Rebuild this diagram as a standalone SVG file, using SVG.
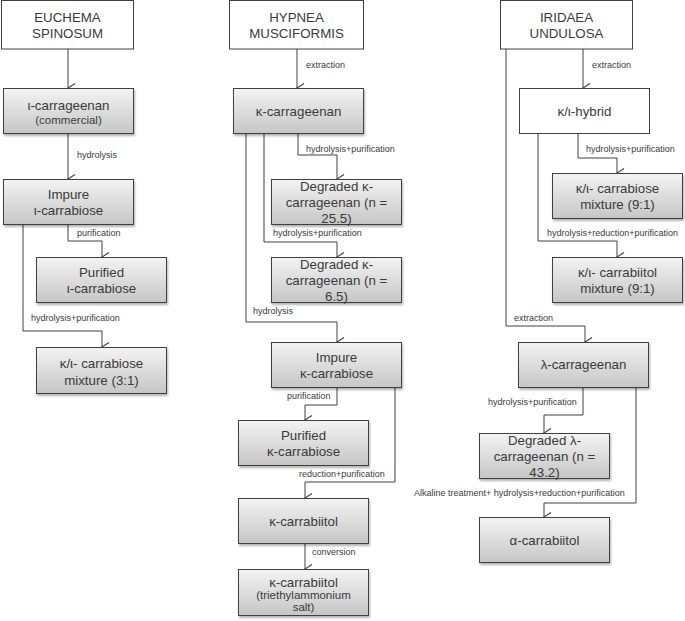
<svg xmlns="http://www.w3.org/2000/svg" width="685" height="621" viewBox="0 0 685 621">
<defs>
<linearGradient id="g" x1="0" y1="0" x2="0" y2="1">
<stop offset="0" stop-color="#f3f3f3"/>
<stop offset="1" stop-color="#c6c6c6"/>
</linearGradient>
<filter id="sh" x="-10%" y="-10%" width="125%" height="135%">
<feDropShadow dx="1" dy="2" stdDeviation="1" flood-color="#000" flood-opacity="0.3"/>
</filter>
<marker id="arr" markerUnits="userSpaceOnUse" markerWidth="12" markerHeight="10" refX="5" refY="8" orient="auto-start-reverse" viewBox="0 0 10 10">
<path d="M0.5,1 L5,8 L9.5,1" fill="none" stroke="#404040" stroke-width="1.1"/>
</marker>
</defs>
<style>
.box{fill:url(#g);stroke:#404040;stroke-width:1;filter:url(#sh)}
.wbox{fill:#fff;stroke:#404040;stroke-width:1}
.t{font-family:"Liberation Sans",Arial,sans-serif;font-size:13.3px;fill:#3a3a3a;text-anchor:middle}
.ts{font-family:"Liberation Sans",Arial,sans-serif;font-size:11.5px;fill:#3a3a3a;text-anchor:middle}
.lb{font-family:"Liberation Sans",Arial,sans-serif;font-size:9px;fill:#3a3a3a}
.c{fill:none;stroke:#404040;stroke-width:1}
.a{marker-end:url(#arr)}
</style>
<rect width="685" height="621" fill="#fff"/>

<g id="connectors">
<path class="c a" d="M68,49 V88"/>
<path class="c a" d="M68,134 V179"/>
<path class="c a" d="M68,224 V241 H102 V257"/>
<path class="c a" d="M23,224 V331 H102 V347"/>
<path class="c a" d="M297,49 V88"/>
<path class="c a" d="M298,133 V155 H337 V179"/>
<path class="c a" d="M264,133 V242 H337 V257"/>
<path class="c a" d="M246,133 V322 H337 V342"/>
<path class="c a" d="M337,387 V405 H305 V420"/>
<path class="c a" d="M395,387 V482 H305 V498"/>
<path class="c a" d="M305,543 V569"/>
<path class="c a" d="M583,49 V88"/>
<path class="c a" d="M506,49 V326 H585 V342"/>
<path class="c a" d="M578,133 V158 H617 V173"/>
<path class="c a" d="M538,133 V241 H617 V257"/>
<path class="c a" d="M583,387 V415 H544 V433"/>
<path class="c a" d="M636,387 V503 H544 V517"/>
<text class="lb" x="77" y="158">hydrolysis</text>
<text class="lb" x="77" y="236">purification</text>
<text class="lb" x="31" y="321">hydrolysis+purification</text>
<text class="lb" x="306" y="68">extraction</text>
<text class="lb" x="306" y="152">hydrolysis+purification</text>
<text class="lb" x="273" y="236">hydrolysis+purification</text>
<text class="lb" x="253" y="314">hydrolysis</text>
<text class="lb" x="287" y="399">purification</text>
<text class="lb" x="299" y="477">reduction+purification</text>
<text class="lb" x="312" y="555">conversion</text>
<text class="lb" x="592" y="68">extraction</text>
<text class="lb" x="586" y="152">hydrolysis+purification</text>
<text class="lb" x="547" y="236">hydrolysis+reduction+purification</text>
<text class="lb" x="514" y="321">extraction</text>
<text class="lb" x="488" y="405">hydrolysis+purification</text>
<text class="lb" x="414" y="496">Alkaline treatment+ hydrolysis+reduction+purification</text>
</g>

<g id="euchema">
<rect class="wbox" x="1.5" y="0.5" width="132" height="48.5"/>
<text class="t" x="67.5" y="22">EUCHEMA</text>
<text class="t" x="67.5" y="38">SPINOSUM</text>
</g>
<g id="iota-carrageenan">
<rect class="box" x="3.5" y="88.5" width="130" height="45"/>
<text class="t" x="68.5" y="110">ι-carrageenan</text>
<text class="ts" x="68.5" y="124">(commercial)</text>
</g>
<g id="impure-iota">
<rect class="box" x="3.5" y="179.5" width="130" height="45"/>
<text class="t" x="68.5" y="199">Impure</text>
<text class="t" x="68.5" y="215">ι-carrabiose</text>
</g>
<g id="purified-iota">
<rect class="box" x="36.5" y="257.5" width="130" height="45"/>
<text class="t" x="101.5" y="277">Purified</text>
<text class="t" x="101.5" y="293">ι-carrabiose</text>
</g>
<g id="mix31">
<rect class="box" x="36.5" y="347.5" width="130" height="46"/>
<text class="t" x="101.5" y="368">κ/ι- carrabiose</text>
<text class="t" x="101.5" y="385">mixture (3:1)</text>
</g>

<g id="hypnea">
<rect class="wbox" x="229.5" y="0.5" width="134" height="48.5"/>
<text class="t" x="296.5" y="22">HYPNEA</text>
<text class="t" x="296.5" y="38">MUSCIFORMIS</text>
</g>
<g id="kappa-carrageenan">
<rect class="box" x="233.5" y="88.5" width="130" height="45"/>
<text class="t" x="298.5" y="116">κ-carrageenan</text>
</g>
<g id="degraded-25">
<rect class="box" x="271.5" y="179.5" width="130" height="45"/>
<text class="t" x="336.5" y="191">Degraded κ-</text>
<text class="t" x="336.5" y="207">carrageenan (n =</text>
<text class="t" x="336.5" y="223">25.5)</text>
</g>
<g id="degraded-6">
<rect class="box" x="271.5" y="257.5" width="130" height="45"/>
<text class="t" x="336.5" y="269">Degraded κ-</text>
<text class="t" x="336.5" y="285">carrageenan (n =</text>
<text class="t" x="336.5" y="301">6.5)</text>
</g>
<g id="impure-kappa">
<rect class="box" x="271.5" y="342.5" width="130" height="45"/>
<text class="t" x="336.5" y="362">Impure</text>
<text class="t" x="336.5" y="378">κ-carrabiose</text>
</g>
<g id="purified-kappa">
<rect class="box" x="238.5" y="420.5" width="130" height="45"/>
<text class="t" x="303.5" y="440">Purified</text>
<text class="t" x="303.5" y="456">κ-carrabiose</text>
</g>
<g id="kappa-carrabiitol">
<rect class="box" x="238.5" y="498.5" width="130" height="45"/>
<text class="t" x="303.5" y="526">κ-carrabiitol</text>
</g>
<g id="kappa-carrabiitol-salt">
<rect class="box" x="238.5" y="569.5" width="130" height="46"/>
<text class="t" x="303.5" y="587">κ-carrabiitol</text>
<text class="ts" x="303.5" y="599">(triethylammonium</text>
<text class="ts" x="303.5" y="611">salt)</text>
</g>

<g id="iridaea">
<rect class="wbox" x="500.5" y="0.5" width="132" height="48.5"/>
<text class="t" x="566.5" y="22">IRIDAEA</text>
<text class="t" x="566.5" y="38">UNDULOSA</text>
</g>
<g id="hybrid">
<rect class="wbox" x="519.5" y="88.5" width="130" height="45"/>
<text class="t" x="584.5" y="116">κ/ι-hybrid</text>
</g>
<g id="mix91">
<rect class="box" x="552.5" y="173.5" width="130" height="45"/>
<text class="t" x="617.5" y="193">κ/ι- carrabiose</text>
<text class="t" x="617.5" y="209">mixture (9:1)</text>
</g>
<g id="carrabiitol91">
<rect class="box" x="552.5" y="257.5" width="130" height="45"/>
<text class="t" x="617.5" y="277">κ/ι- carrabiitol</text>
<text class="t" x="617.5" y="293">mixture (9:1)</text>
</g>
<g id="lambda-carrageenan">
<rect class="box" x="518.5" y="342.5" width="130" height="45"/>
<text class="t" x="583.5" y="369">λ-carrageenan</text>
</g>
<g id="degraded-lambda">
<rect class="box" x="479.5" y="433.5" width="130" height="45"/>
<text class="t" x="544.5" y="445">Degraded λ-</text>
<text class="t" x="544.5" y="461">carrageenan (n =</text>
<text class="t" x="544.5" y="477">43.2)</text>
</g>
<g id="alpha-carrabiitol">
<rect class="box" x="479.5" y="517.5" width="130" height="45"/>
<text class="t" x="544.5" y="545">α-carrabiitol</text>
</g>
</svg>
